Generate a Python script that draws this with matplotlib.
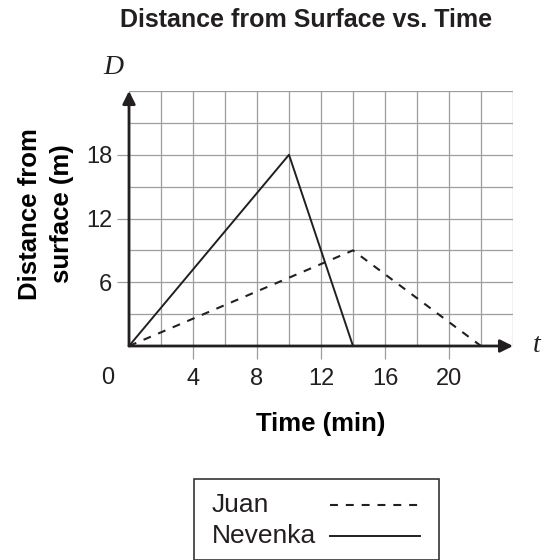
import matplotlib
matplotlib.use("Agg")
import matplotlib.pyplot as plt
from matplotlib.patches import Rectangle
from matplotlib.lines import Line2D

# data
juan_t = [0, 14, 22]
juan_d = [0, 9, 0]
nev_t = [0, 10, 14]
nev_d = [0, 18, 0]

x_ticks = [4, 8, 12, 16, 20]
y_ticks = [6, 12, 18]
names = ['Juan', 'Nevenka']

ink = '#231f20'
grid_col = '#9d9d9d'
W, H = 548, 560

plt.rcParams['font.family'] = ['Liberation Sans', 'DejaVu Sans']
plt.rcParams['text.color'] = ink

fig = plt.figure(figsize=(W/100, H/100), dpi=100)
ax = fig.add_axes([129/W, 1 - 346/H, 384/W, 255/H])

ax.set_xlim(0, 24)
ax.set_ylim(0, 24)
ax.set_xticks(x_ticks)
ax.set_yticks(y_ticks)
ax.set_xticks(range(0, 25, 2), minor=True)
ax.set_yticks(range(0, 25, 3), minor=True)
ax.grid(True, which='both', color=grid_col, lw=0.9)
ax.tick_params(which='minor', length=0)
ax.tick_params(which='major', length=9, width=0.9, color=grid_col,
               labelsize=17, labelcolor=ink)
ax.tick_params(axis='x', pad=7)
ax.tick_params(axis='y', pad=3)
for s in ax.spines.values():
    s.set_visible(False)

dash = (0, (3.8, 3.8))
styles = [dict(lw=1.5, ls=dash), dict(lw=1.4, ls='-')]
ax.plot(juan_t, juan_d, color=ink, clip_on=False, zorder=3, **styles[0])
ax.plot(nev_t, nev_d, color=ink, clip_on=False, zorder=3, **styles[1])

# axes with arrow heads
arr = dict(arrowstyle='-|>', lw=2.0, color=ink, shrinkA=0, shrinkB=0,
           mutation_scale=19)
ax.annotate('', xy=(24, 0), xytext=(0, 0), arrowprops=arr, zorder=4,
            annotation_clip=False)
ax.annotate('', xy=(0, 24), xytext=(0, 0), arrowprops=arr, zorder=4,
            annotation_clip=False)

ax.annotate('0', xy=(0, 0), xytext=(-21, -32), textcoords='offset pixels',
            ha='center', va='center', fontsize=17, color=ink)

ax.set_xlabel('Time (min)', fontsize=18.5, fontweight='bold', va='center')
ax.xaxis.set_label_coords(0.5, -0.306)
ax.set_ylabel('Distance from\nsurface (m)', fontsize=18.5, fontweight='bold',
              va='center', linespacing=1.45)
ax.yaxis.set_label_coords(-0.216, 0.518)

fig.text(306/W, 1 - 20/H, 'Distance from Surface vs. Time',
         ha='center', va='center', fontsize=18, fontweight='bold')
fig.text(113/W, 1 - 68/H, 'D', ha='center', va='center', fontsize=20,
         style='italic', family=['Liberation Serif', 'DejaVu Serif'])
fig.text(537/W, 1 - 345/H, 't', ha='center', va='center', fontsize=20,
         style='italic', family=['Liberation Serif', 'DejaVu Serif'])

# key box, laid out by hand so names sit left and samples line up
fig.add_artist(Rectangle((194/W, 0), (439 - 194)/W, 1 - 479/H,
                         transform=fig.transFigure, fill=False,
                         edgecolor='#333333', lw=1.2, clip_on=False))
for i, (name, st) in enumerate(zip(names, styles)):
    yy = 1 - (505 + 31*i)/H
    fig.text(212/W, yy, name, ha='left', va='center', fontsize=19)
    fig.add_artist(Line2D([330/W, 420/W], [yy, yy],
                          transform=fig.transFigure, color=ink, **st))

fig.savefig('out.png', dpi=100)
